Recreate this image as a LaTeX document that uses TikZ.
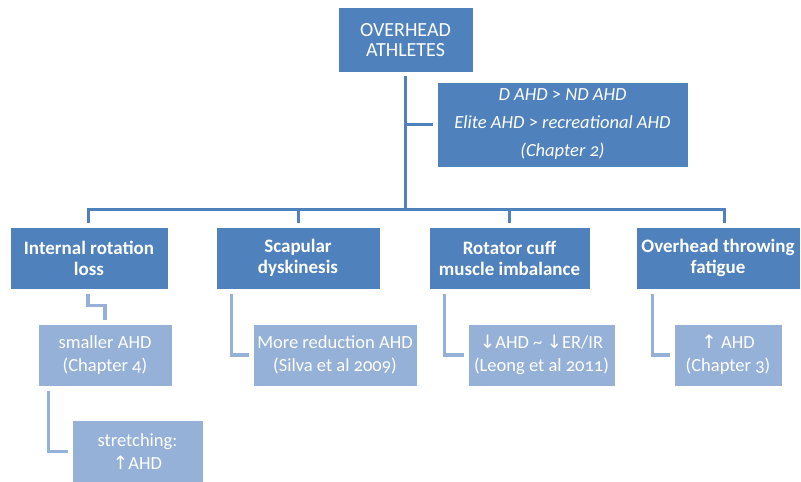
\documentclass[tikz,border=0pt]{standalone}
\usepackage{fontspec}
\setmainfont[Numbers=OldStyle]{Carlito}
\newfontfamily\arrowfont{DejaVu Sans}
\definecolor{darkbox}{HTML}{4F81BD}
\definecolor{lightbox}{HTML}{95B1D8}
\definecolor{darkline}{HTML}{4F81BD}
\definecolor{lightline}{HTML}{95B1D8}
\newcommand{\upar}{{\arrowfont\fontsize{18.5}{18.5}\selectfont↑}}
\newcommand{\dnar}{{\arrowfont\fontsize{18.5}{18.5}\selectfont↓}}
\tikzset{
  topbox/.style={rectangle, fill=darkbox, draw=white, line width=0.8pt, text=white, align=center, inner sep=0pt},
  subbox/.style={rectangle, fill=lightbox, draw=white, line width=0.8pt, text=white, align=center, inner sep=0pt},
  mainline/.style={draw=darkline, line width=3pt},
  subline/.style={draw=lightline, line width=3.5pt},
}
\begin{document}
\begin{tikzpicture}[x=1pt,y=-1pt]
\useasboundingbox (0,0) rectangle (801,482);
\begin{scope}
\clip (0,0) rectangle (801,482);
% level 0
\node[topbox, minimum width=135pt, minimum height=65pt, font=\fontsize{20}{20}\selectfont] (top) at (405.5,40) {OVERHEAD\\ATHLETES};
\node[topbox, minimum width=251pt, minimum height=85pt, font=\fontsize{18.5}{28}\selectfont\itshape] (ch2) at (562.5,124.5) {D AHD {\upshape>} ND AHD\\Elite AHD {\upshape>} recreational AHD\\(Chapter 2)};
% level 1
\node[topbox, minimum width=158pt, minimum height=62pt, font=\fontsize{19}{21}\selectfont\bfseries] (a) at (89,258) {Internal rotation\\loss};
\node[topbox, minimum width=164pt, minimum height=62pt, font=\fontsize{19}{21}\selectfont\bfseries] (b) at (298,258) {Scapular\\dyskinesis};
\node[topbox, minimum width=161pt, minimum height=62pt, font=\fontsize{19}{21}\selectfont\bfseries] (c) at (509.5,258) {Rotator cuff\\muscle imbalance};
\node[topbox, minimum width=164pt, minimum height=62pt, font=\fontsize{19}{21}\selectfont\bfseries] (d) at (718,258) {Overhead throwing\\fatigue};
% level 2
\node[subbox, minimum width=134pt, minimum height=62pt, font=\fontsize{18.5}{23}\selectfont] (a2) at (105,355) {smaller AHD\\(Chapter 4)};
\node[subbox, minimum width=164pt, minimum height=62pt, font=\fontsize{18.5}{23}\selectfont] (b2) at (335,355) {More reduction AHD\\(Silva et al 2009)};
\node[subbox, minimum width=147pt, minimum height=62pt, font=\fontsize{18.5}{23}\selectfont] (c2) at (541.5,355) {\dnar AHD \textasciitilde{} \dnar ER/IR\\(Leong et al 2011)};
\node[subbox, minimum width=108pt, minimum height=62pt, font=\fontsize{18.5}{23}\selectfont] (d2) at (728,355) {\upar{} AHD\\(Chapter 3)};
% level 3
\node[subbox, minimum width=131pt, minimum height=63pt, font=\fontsize{18.5}{23}\selectfont] (a3) at (137.5,451.5) {stretching:\\\upar AHD};
\end{scope}
% main connectors
\coordinate (bar) at (405.5,209);
\coordinate (tap) at (405.5,124.5);
\draw[mainline, shorten <=3pt] (top.south) -- (bar);
\draw[mainline, shorten >=4pt] (tap) -- (ch2.west);
\draw[mainline, shorten <=4pt, shorten >=4pt] ([xshift=-1pt]a.north) |- (bar) -| ([xshift=6pt]d.north);
\draw[mainline, shorten >=4pt] (bar) -| (b.north);
\draw[mainline, shorten >=4pt] (bar) -| (c.north);
% sub connectors
\draw[subline, shorten <=5pt, shorten >=4pt] ([xshift=-1pt]a.south) -- ++(0,16) -| (a2.north);
\draw[subline, shorten <=5pt, shorten >=4pt] ([xshift=16pt]b.south west) |- (b2.west);
\draw[subline, shorten <=5pt, shorten >=4pt] ([xshift=16pt]c.south west) |- (c2.west);
\draw[subline, shorten <=5pt, shorten >=4pt] ([xshift=17pt]d.south west) |- (d2.west);
\draw[subline, shorten <=5pt, shorten >=4pt] ([xshift=11pt]a2.south west) |- (a3.west);
\end{tikzpicture}
\end{document}
